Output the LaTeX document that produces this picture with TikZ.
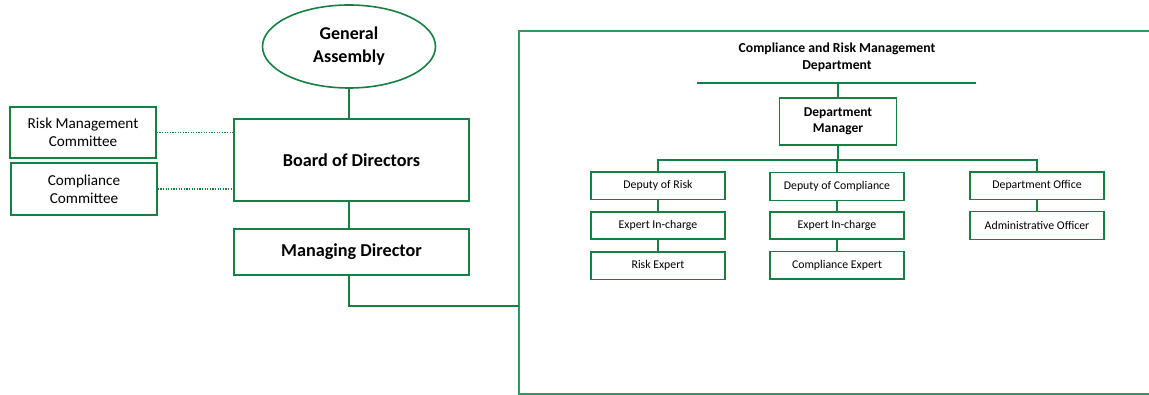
\documentclass[tikz,border=0pt]{standalone}
\usepackage{fontspec}
\setmainfont{Carlito}
\usetikzlibrary{shapes.geometric}
\definecolor{orggreen}{RGB}{22,128,68}
\definecolor{framegreen}{RGB}{52,150,100}
\begin{document}
\begin{tikzpicture}[x=1pt,y=-1pt,
  box/.style={draw=orggreen,line width=1.6pt,inner sep=0pt,align=center},
  bigbox/.style={box,minimum width=235pt,font=\fontsize{18.2}{22}\selectfont\bfseries},
  sidebox/.style={box,minimum width=146pt,minimum height=51pt,font=\fontsize{15.2}{18}\selectfont},
  unitbox/.style={box,minimum width=134.5pt,minimum height=27.5pt,font=\fontsize{11.8}{14}\selectfont},
  link/.style={draw=orggreen,line width=1.6pt},
  dotlink/.style={draw=orggreen,line width=1.4pt,dash pattern=on 1.2pt off 1.4pt}]
\useasboundingbox (0,0) rectangle (1149,395);

% left part
\node [ellipse,draw=orggreen,line width=1.6pt,minimum width=173pt,minimum height=83pt,
  inner sep=0pt,align=center,font=\fontsize{18}{23}\selectfont\bfseries] (ga) at (349,46.5) {General\\Assembly};
\node [bigbox,minimum height=82pt] (bod) at (351.5,160) {Board of Directors};
\node [bigbox,minimum height=46pt] (md) at (351.5,252) {Managing Director};
\node [sidebox] (rmc) at (83,132.5) {Risk Management\\Committee};
\node [sidebox,minimum height=52pt] (cc) at (84,189) {Compliance\\Committee};

\draw [link] (ga.south) -- (ga.south |- bod.north);
\draw [link] (ga.south |- bod.south) -- (ga.south |- md.north);
\draw [dotlink] (rmc.east) -- (rmc.east -| bod.west);
\draw [dotlink] (cc.east) -- (cc.east -| bod.west);

% department frame
\draw [draw=framegreen,line width=1.6pt] (1152,31) -- (519,31) -- (519,394) -- (1152,394);
\coordinate (deptleft) at (519,306);
\draw [link] (ga.south |- md.south) |- (deptleft);

\node [align=center,font=\fontsize{13.7}{17}\selectfont\bfseries] (title) at (837,57.5)
  {Compliance and Risk Management\\Department};
\coordinate (barL) at (697,83);
\coordinate (barR) at (976,83);
\draw [draw=orggreen,line width=2.6pt] (barL) -- (barR);

\node [box,minimum width=117pt,minimum height=47pt,font=\fontsize{13.5}{16}\selectfont\bfseries]
  (dm) at (838,121.7) {Department\\Manager};
\draw [link,line width=1.2pt] (dm.north) -- (dm.north |- barL);

% units
\node [unitbox] (dor) at (658,185.7) {Deputy of Risk};
\node [unitbox] (eic1) at (658,225.5) {Expert In-charge};
\node [unitbox] (re) at (658,265.7) {Risk Expert};
\node [unitbox,minimum height=28pt] (doc) at (837,186.7) {Deputy of Compliance};
\node [unitbox] (eic2) at (837,225.5) {Expert In-charge};
\node [unitbox] (ce) at (837,265.2) {Compliance Expert};
\node [unitbox] (dof) at (1037,185.7) {Department Office};
\node [unitbox,minimum height=28pt] (ao) at (1037,225.7) {Administrative Officer};

\coordinate (fork) at (838,160);
\draw [link,line width=1.2pt] (dm.south) -- (fork);
\draw [link,line width=1.2pt] (fork) -| (dor.north);
\draw [link,line width=1.2pt] (fork) -| (doc.north);
\draw [link,line width=1.2pt] (fork) -| (dof.north);
\draw [link,line width=1.2pt] (dor) -- (eic1);
\draw [link,line width=1.2pt] (eic1) -- (re);
\draw [link,line width=1.2pt] (doc) -- (eic2);
\draw [link,line width=1.2pt] (eic2) -- (ce);
\draw [link,line width=1.2pt] (dof) -- (ao);
\end{tikzpicture}
\end{document}
